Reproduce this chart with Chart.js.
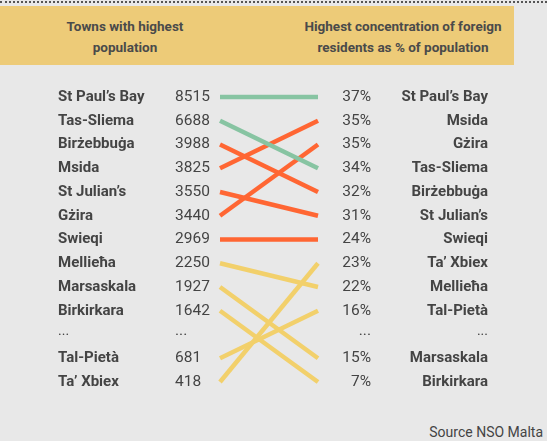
<!DOCTYPE html>
<html>
<head>
<meta charset="utf-8">
<script src="https://cdn.jsdelivr.net/npm/chart.js@4.4.0/dist/chart.umd.min.js"></script>
<style>
  html, body { margin: 0; padding: 0; }
  body { width: 547px; height: 441px; background: #e8e8e8; position: relative; overflow: hidden;
         font-family: Roboto, 'Open Sans', sans-serif; color: #484848; }
  .dots { position: absolute; left: 0; top: 1px; width: 547px; border-top: 2px dotted #555; }
  .band { position: absolute; left: 0; top: 6px; width: 514px; height: 59px; background: #edcb78; }
  .head { position: absolute; top: 16px; font-weight: 700; font-size: 13.5px; line-height: 21px; text-align: center; color: #4a4a4a; }
  .source { position: absolute; right: 4px; top: 424px; font-size: 14px; color: #444; }
  #wrap { position: absolute; left: 0; top: 0; width: 547px; height: 441px; }
</style>
</head>
<body>
<div class="dots"></div>
<div class="band"></div>
<div class="head" style="left:25px;width:200px">Towns with highest<br>population</div>
<div class="head" style="left:283px;width:240px">Highest concentration of foreign<br>residents as % of population</div>
<div class="source">Source NSO Malta</div>
<div id="wrap"><canvas id="chart"></canvas></div>
<script>
// left column: towns ranked by population
const popTowns = ['St Paul\u2019s Bay', 'Tas-Sliema', 'Bir\u017cebbu\u0121a', 'Msida', 'St Julian\u2019s', 'G\u017cira', 'Swieqi',
  'Mellie\u0127a', 'Marsaskala', 'Birkirkara', '...', 'Tal-Piet\u00e0', 'Ta\u2019 Xbiex']
const popValues = ['8515', '6688', '3988', '3825', '3550', '3440', '2969', '2250', '1927', '1642', '...', '681', '418']

// right column: towns ranked by % foreign residents
const foreignTowns = ['St Paul\u2019s Bay', 'Msida', 'G\u017cira', 'Tas-Sliema', 'Bir\u017cebbu\u0121a', 'St Julian\u2019s', 'Swieqi',
  'Ta\u2019 Xbiex', 'Mellie\u0127a', 'Tal-Piet\u00e0', '...', 'Marsaskala', 'Birkirkara']
const foreignPct = ['37%', '35%', '35%', '34%', '32%', '31%', '24%', '23%', '22%', '16%', '...', '15%', '7%']

// which group each linked town belongs to
const groupColors = { top: '#87c4a2', mid: '#ff6633', low: '#f2d06b' }
const links = [
  ['St Paul\u2019s Bay', 'top'], ['Tas-Sliema', 'top'],
  ['Bir\u017cebbu\u0121a', 'mid'], ['Msida', 'mid'], ['St Julian\u2019s', 'mid'], ['G\u017cira', 'mid'], ['Swieqi', 'mid'],
  ['Mellie\u0127a', 'low'], ['Marsaskala', 'low'], ['Birkirkara', 'low'], ['Tal-Piet\u00e0', 'low'], ['Ta\u2019 Xbiex', 'low'],
]

const datasets = links.map(([town, group]) => ({
  label: town,
  data: [
    { x: 0, y: popTowns.indexOf(town) },
    { x: 1, y: foreignTowns.indexOf(town) },
  ],
  borderColor: groupColors[group],
  borderWidth: 4.5,
  pointRadius: 0,
  borderCapStyle: 'butt',
  clip: false,
}))

const columnText = {
  id: 'columnText',
  afterDatasetsDraw(chart) {
    const ctx = chart.ctx
    const y = chart.scales.y
    ctx.save()
    ctx.fillStyle = '#444444'
    ctx.textBaseline = 'middle'
    for (let i = 0; i < popTowns.length; i++) {
      const py = y.getPixelForValue(i)
      const dots = popTowns[i] === '...'
      const dy = dots ? -3 : 0
      ctx.font = (dots ? '400 14px' : '700 15px') + ' Roboto'
      ctx.textAlign = 'left'
      ctx.fillText(popTowns[i], 58, py + dy)
      ctx.font = '400 15.5px Roboto'
      ctx.fillText(popValues[i], 175, py + dy)

      ctx.textAlign = 'right'
      ctx.fillText(foreignPct[i], 371, py + dy)
      ctx.font = (dots ? '400 14px' : '700 15px') + ' Roboto'
      ctx.fillText(foreignTowns[i], 488, py + dy)
    }
    ctx.restore()
  },
}

new Chart(document.getElementById('chart'), {
  type: 'line',
  data: { datasets },
  options: {
    responsive: true,
    maintainAspectRatio: false,
    animation: false,
    layout: { padding: { left: 220, right: 229, top: 97, bottom: 59 } },
    plugins: { legend: { display: false }, tooltip: { enabled: false } },
    scales: {
      x: { type: 'linear', min: 0, max: 1, display: false },
      y: { type: 'linear', min: 0, max: 12, reverse: true, display: false },
    },
  },
  plugins: [columnText],
})
</script>
</body>
</html>
